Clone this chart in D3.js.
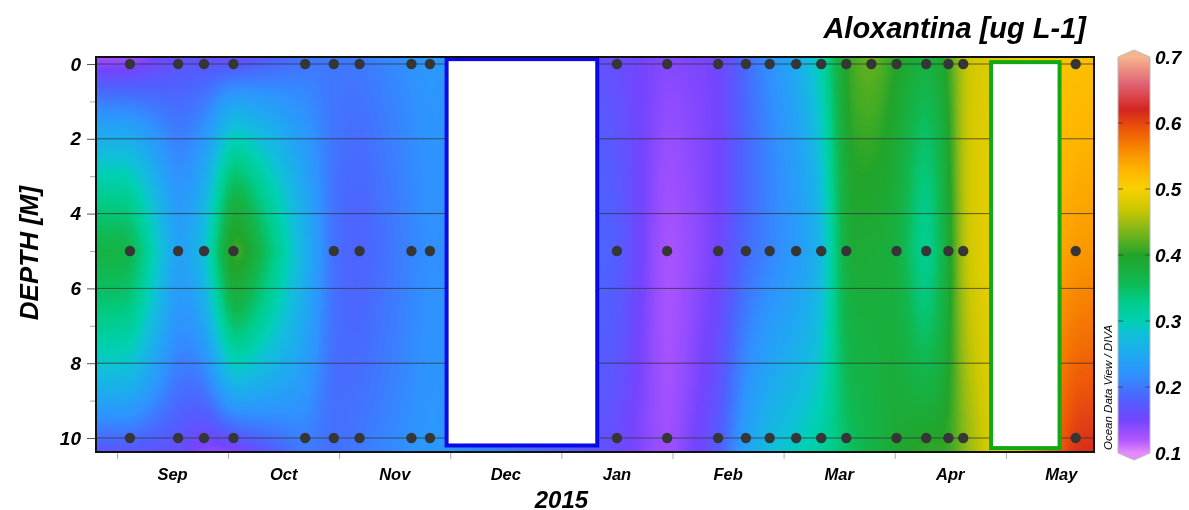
<!DOCTYPE html>
<html>
<head>
<meta charset="utf-8">
<script src="https://cdn.jsdelivr.net/npm/d3@7"></script>
<style>
body { margin: 0; background: #fff; }
#wrap { position: relative; width: 1189px; height: 510px; }
#field, #chart { position: absolute; left: 0; top: 0; }
text { font-family: "Liberation Sans", Arial, sans-serif; font-weight: bold; font-style: italic; fill: #000; }
</style>
</head>
<body>
<div id="wrap">
  <canvas id="field" width="1189" height="510"></canvas>
  <svg id="chart" width="1189" height="510"></svg>
</div>
<script>
// month boundaries of the time axis and the labels put between them
const monthStarts = ['2014-08-01', '2014-09-01', '2014-10-01', '2014-11-01', '2014-12-01',
    '2015-01-01', '2015-02-01', '2015-03-01', '2015-04-01', '2015-05-01', '2015-06-01'];
const monthLabels = ['Sep', 'Oct', 'Nov', 'Dec', 'Jan', 'Feb', 'Mar', 'Apr', 'May'];

// sampling days
const sampleDates = ['2014-09-04', '2014-09-17', '2014-09-24', '2014-10-02', '2014-10-22',
    '2014-10-30', '2014-11-06', '2014-11-20', '2014-11-25', '2015-01-16', '2015-01-30',
    '2015-02-12', '2015-02-19', '2015-02-25', '2015-03-04', '2015-03-11', '2015-03-18',
    '2015-03-25', '2015-04-01', '2015-04-09', '2015-04-15', '2015-04-19', '2015-05-20'];

const sampleDepths = [0, 5, 10];

// aloxantina, ug L-1 (null = no sample at that depth)
const valuesSurface = [0.14, 0.17, 0.17, 0.17, 0.20, 0.20, 0.20, 0.22, 0.23, 0.16, 0.14,
    0.15, 0.19, 0.22, 0.25, 0.30, 0.41, 0.43, 0.40, 0.37, 0.40, 0.47, 0.52];
const values5m = [0.37, 0.23, 0.27, 0.43, null, 0.19, 0.18, 0.21, 0.22, 0.18, 0.12,
    0.15, 0.19, 0.21, 0.23, 0.26, 0.39, null, 0.38, 0.31, 0.38, 0.47, 0.55];
const values10m = [0.19, 0.17, 0.15, 0.17, 0.21, 0.19, 0.20, 0.22, 0.23, 0.16, 0.125,
    0.17, 0.24, 0.27, 0.29, 0.31, 0.35, null, 0.39, 0.40, 0.40, 0.44, 0.61];

// periods without data (boxes drawn over the field)
const gapStarts = ['2014-11-30', '2015-04-27'];
const gapEnds = ['2015-01-11', '2015-05-16'];
const gapTopDepth = [-0.13, -0.05];
const gapBottomDepth = [10.2, 10.27];

const depthTicks = [0, 2, 4, 6, 8, 10];
const depthMinorTicks = [1, 3, 5, 7, 9];
const colorTicks = [0.1, 0.2, 0.3, 0.4, 0.5, 0.6, 0.7];

// ODV-like rainbow palette
const colorStops = [0.10, 0.12, 0.15, 0.18, 0.20, 0.22, 0.25, 0.28, 0.30, 0.33, 0.36, 0.40,
    0.44, 0.47, 0.50, 0.53, 0.56, 0.59, 0.62, 0.66, 0.70];
const colorValues = ['#e48cff', '#b055ff', '#7444ff', '#5060ff', '#3f78ff', '#2f92ff', '#1eaaf0',
    '#10c0d8', '#00d0b4', '#00cc88', '#10b850', '#22a42a', '#88b818', '#cdc800', '#f8d000',
    '#ffb400', '#f88800', '#ee5808', '#d42420', '#e06474', '#f6b48e'];

const parseDate = d3.timeParse('%Y-%m-%d');
// samples are placed at midday
const sampleTime = s => d3.timeHour.offset(parseDate(s), 12);

const plotLeft = 96, plotRight = 1094, plotTop = 57, plotBottom = 452;

const x = d3.scaleTime()
    .domain(monthStarts.map(parseDate))
    .range(monthStarts.map((d, i) => 5.9 + i * 111.1));

const y = d3.scaleLinear().domain([0, 10]).range([64, 438]);

const color = d3.scaleLinear().domain(colorStops).range(colorValues)
    .interpolate(d3.interpolateRgb).clamp(true);

const svg = d3.select('#chart');
const rows = [valuesSurface, values5m, values10m];

// ---- interpolated field ----
// along time: linear between samples of a depth row, then a gaussian blur;
// across depth: blend of linear and quadratic interpolation between the rows
function drawField() {
    const canvas = document.getElementById('field');
    const ctx = canvas.getContext('2d');
    const w = plotRight - plotLeft, h = plotBottom - plotTop;
    const img = ctx.createImageData(w, h);
    const blur = 7, rad = 21;

    const kernel = d3.range(-rad, rad + 1).map(k => Math.exp(-0.5 * (k / blur) * (k / blur)));
    const ksum = d3.sum(kernel);

    const rowAt = rows.map(row => {
        const pts = [];
        row.forEach((v, i) => { if (v !== null) pts.push([x(sampleTime(sampleDates[i])), v]); });
        const lin = d3.scaleLinear().domain(pts.map(p => p[0])).range(pts.map(p => p[1])).clamp(true);
        const raw = d3.range(w).map(i => lin(plotLeft + i + 0.5));
        const out = new Float64Array(w);
        for (let i = 0; i < w; i++) {
            let s = 0;
            for (let k = -rad; k <= rad; k++) {
                const ii = Math.max(0, Math.min(w - 1, i + k));
                s += kernel[k + rad] * raw[ii];
            }
            out[i] = s / ksum;
        }
        return out;
    });

    const lut = [];
    for (let n = 0; n <= 600; n++) {
        const c = d3.rgb(color(0.1 + n / 1000));
        lut.push([c.r, c.g, c.b]);
    }

    for (let j = 0; j < h; j++) {
        const d = y.invert(plotTop + j + 0.5);
        const q0 = (d - 5) * (d - 10) / 50, q1 = d * (d - 10) / -25, q2 = d * (d - 5) / 50;
        let l0, l1, l2;
        if (d < 5) { l0 = (5 - d) / 5; l1 = d / 5; l2 = 0; }
        else { l0 = 0; l1 = (10 - d) / 5; l2 = (d - 5) / 5; }
        const a0 = (q0 + l0) / 2, a1 = (q1 + l1) / 2, a2 = (q2 + l2) / 2;
        for (let i = 0; i < w; i++) {
            const v = a0 * rowAt[0][i] + a1 * rowAt[1][i] + a2 * rowAt[2][i];
            const n = Math.max(0, Math.min(600, Math.round((v - 0.1) * 1000)));
            const c = lut[n];
            const p = (j * w + i) * 4;
            img.data[p] = c[0];
            img.data[p + 1] = c[1];
            img.data[p + 2] = c[2];
            img.data[p + 3] = 255;
        }
    }
    ctx.putImageData(img, plotLeft, plotTop);
}
drawField();

// ---- grid lines ----
svg.append('g')
    .selectAll('line')
    .data(depthTicks)
    .enter()
    .append('line')
    .attr('x1', plotLeft)
    .attr('x2', plotRight)
    .attr('y1', d => y(d))
    .attr('y2', d => y(d))
    .attr('stroke', '#333')
    .attr('stroke-opacity', 0.75)
    .attr('stroke-width', 1);

// ---- sample dots ----
const dots = [];
rows.forEach((row, r) => {
    row.forEach((v, i) => {
        if (v !== null) dots.push({ date: sampleTime(sampleDates[i]), depth: sampleDepths[r] });
    });
});

svg.append('g')
    .selectAll('circle')
    .data(dots)
    .enter()
    .append('circle')
    .attr('cx', d => x(d.date))
    .attr('cy', d => y(d.depth))
    .attr('r', 5.2)
    .attr('fill', '#363636');

// ---- gap boxes ----
const gapColors = ['#0a0ae6', '#12a812'];
svg.append('g')
    .selectAll('rect')
    .data(gapStarts)
    .enter()
    .append('rect')
    .attr('x', (d, i) => x(parseDate(d)))
    .attr('y', (d, i) => y(gapTopDepth[i]))
    .attr('width', (d, i) => x(parseDate(gapEnds[i])) - x(parseDate(d)))
    .attr('height', (d, i) => y(gapBottomDepth[i]) - y(gapTopDepth[i]))
    .attr('fill', '#fff')
    .attr('stroke', (d, i) => gapColors[i])
    .attr('stroke-width', 4);

// ---- frame ----
svg.append('rect')
    .attr('x', plotLeft)
    .attr('y', plotTop)
    .attr('width', plotRight - plotLeft)
    .attr('height', plotBottom - plotTop)
    .attr('fill', 'none')
    .attr('stroke', '#111')
    .attr('stroke-width', 2);

// ---- depth axis ----
const yAxis = svg.append('g')
    .attr('transform', `translate(${plotLeft - 1},0)`)
    .call(d3.axisLeft(y).tickValues(depthTicks).tickSize(8).tickPadding(6));
yAxis.select('.domain').remove();
yAxis.selectAll('line').attr('stroke', '#555');
yAxis.selectAll('text')
    .style('font-size', '19px')
    .style('font-family', '"Liberation Sans", Arial, sans-serif');

const yMinor = svg.append('g')
    .attr('transform', `translate(${plotLeft - 1},0)`)
    .call(d3.axisLeft(y).tickValues(depthMinorTicks).tickSize(5).tickFormat(''));
yMinor.select('.domain').remove();
yMinor.selectAll('line').attr('stroke', '#aaa');

svg.append('text')
    .attr('transform', 'translate(38,253) rotate(-90)')
    .attr('text-anchor', 'middle')
    .style('font-size', '26px')
    .text('DEPTH [M]');

// ---- time axis ----
const monthDates = monthStarts.map(parseDate);
const tickDates = monthDates.slice(1, 10);
const xAxis = svg.append('g')
    .attr('transform', `translate(0,${plotBottom + 1})`)
    .call(d3.axisBottom(x).tickValues(tickDates).tickSize(6).tickFormat(''));
xAxis.select('.domain').remove();
xAxis.selectAll('line').attr('stroke', '#aaa');

svg.append('g')
    .selectAll('text')
    .data(monthLabels)
    .enter()
    .append('text')
    .attr('x', (d, i) => (x(monthDates[i + 1]) + x(monthDates[i + 2])) / 2)
    .attr('y', 480)
    .attr('text-anchor', 'middle')
    .style('font-size', '16.5px')
    .text(d => d);

svg.append('text')
    .attr('x', x(parseDate('2015-01-01')))
    .attr('y', 508)
    .attr('text-anchor', 'middle')
    .style('font-size', '24px')
    .text('2015');

// ---- title ----
svg.append('text')
    .attr('x', 1086)
    .attr('y', 38)
    .attr('text-anchor', 'end')
    .style('font-size', '29px')
    .text('Aloxantina [ug L-1]');

// ---- colour bar ----
const cScale = d3.scaleLinear().domain([0.1, 0.7]).range([453, 57]);
const barLeft = 1118, barRight = 1150, barMid = (barLeft + barRight) / 2;

const grad = svg.append('defs').append('linearGradient')
    .attr('id', 'cbar')
    .attr('gradientUnits', 'userSpaceOnUse')
    .attr('x1', 0).attr('x2', 0)
    .attr('y1', cScale(0.1)).attr('y2', cScale(0.7));
d3.range(0.1, 0.7001, 0.005).forEach(v => {
    grad.append('stop')
        .attr('offset', (v - 0.1) / 0.6)
        .attr('stop-color', color(v));
});

const bar = d3.path();
bar.moveTo(barLeft, cScale(0.7));
bar.lineTo(barMid, cScale(0.7) - 7);
bar.lineTo(barRight, cScale(0.7));
bar.lineTo(barRight, cScale(0.1));
bar.lineTo(barMid, cScale(0.1) + 7);
bar.lineTo(barLeft, cScale(0.1));
bar.closePath();

svg.append('path')
    .attr('d', bar.toString())
    .attr('fill', 'url(#cbar)')
    .attr('stroke', '#bbb')
    .attr('stroke-width', 1);

const cTicks = svg.append('g');
colorTicks.slice(1, -1).forEach(v => {
    cTicks.append('line')
        .attr('x1', barLeft).attr('x2', barLeft + 5)
        .attr('y1', cScale(v)).attr('y2', cScale(v))
        .attr('stroke', '#333').attr('stroke-opacity', 0.7);
    cTicks.append('line')
        .attr('x1', barRight - 5).attr('x2', barRight)
        .attr('y1', cScale(v)).attr('y2', cScale(v))
        .attr('stroke', '#333').attr('stroke-opacity', 0.7);
});

svg.append('g')
    .selectAll('text')
    .data(colorTicks)
    .enter()
    .append('text')
    .attr('x', 1155)
    .attr('y', d => cScale(d))
    .attr('dy', '0.36em')
    .style('font-size', '19px')
    .text(d => d3.format('.1f')(d));

svg.append('text')
    .attr('transform', 'translate(1112,450) rotate(-90)')
    .attr('text-anchor', 'start')
    .style('font-size', '11.5px')
    .style('font-weight', 'normal')
    .text('Ocean Data View / DIVA');
</script>
</body>
</html>
